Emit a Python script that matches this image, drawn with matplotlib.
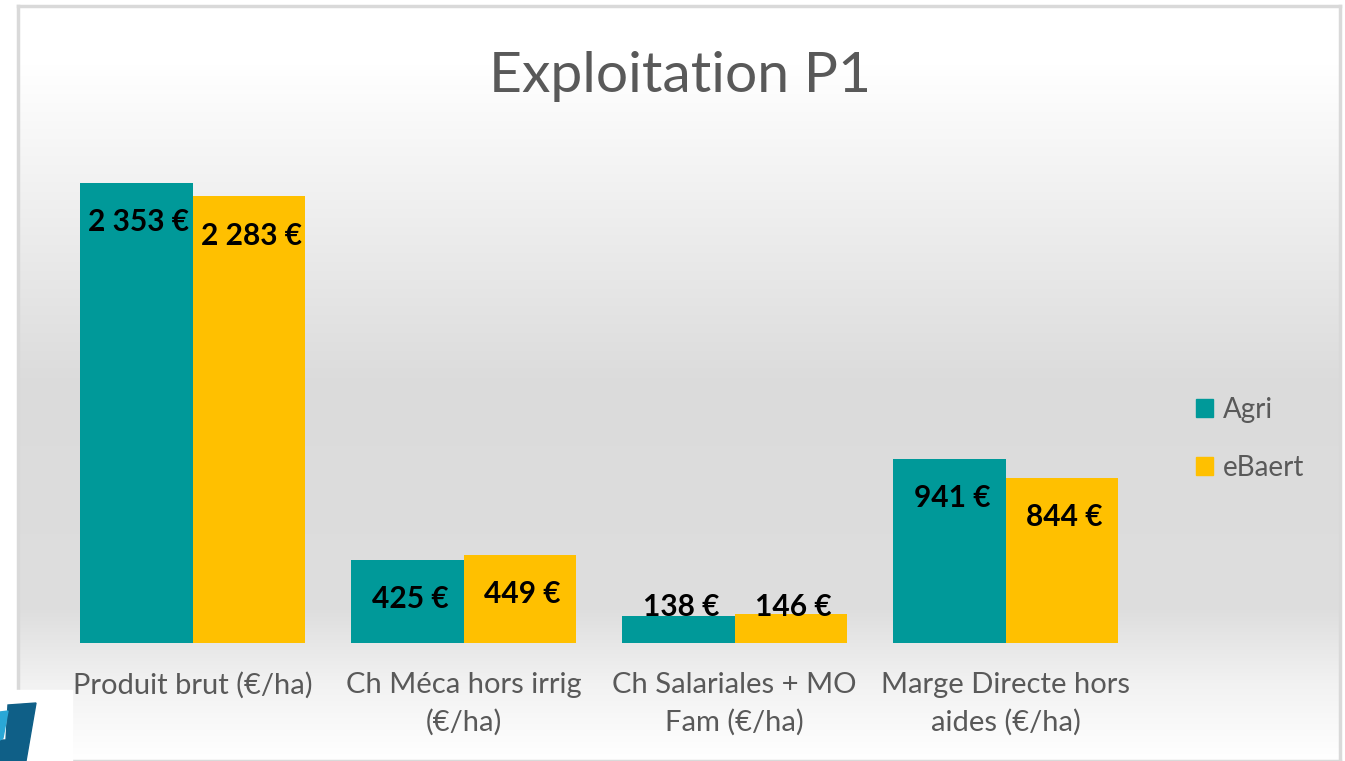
import matplotlib
matplotlib.use("Agg")
import matplotlib.pyplot as plt
import numpy as np
from matplotlib.patches import Patch, Polygon, Rectangle

plt.rcParams["font.family"] = ["Lato", "DejaVu Sans"]

categories = [
    "Produit brut (€/ha)",
    "Ch Méca hors irrig\n(€/ha)",
    "Ch Salariales + MO\nFam (€/ha)",
    "Marge Directe hors\naides (€/ha)",
]
agri = [2353, 425, 138, 941]
ebaert = [2283, 449, 146, 844]
series_names = ["Agri", "eBaert"]

TEAL = "#009999"
YELLOW = "#FFC000"
GREY_TXT = "#595959"

W, H = 1345, 761
fig = plt.figure(figsize=(W / 100, H / 100), dpi=100)
fig.patch.set_facecolor("white")

# chart frame with vertical gradient background
fx0, fx1, fy0, fy1 = 18, 1340, 6, 761
bg = fig.add_axes([fx0 / W, 1 - fy1 / H, (fx1 - fx0) / W, (fy1 - fy0) / H], zorder=0)
ys = np.linspace(0, 1, 300)
# 0 = top of frame, 1 = bottom
shade = np.interp(ys, [0.0, 0.08, 0.5, 0.8, 0.9, 1.0], [1.0, 1.0, 0.86, 0.87, 0.95, 1.0])
img = np.repeat(shade[:, None], 2, axis=1)
bg.imshow(np.dstack([img, img, img]), aspect="auto", extent=[0, 1, 1, 0])
bg.set_xlim(0, 1)
bg.set_ylim(1, 0)
bg.set_xticks([])
bg.set_yticks([])
for s in bg.spines.values():
    s.set_color("#d9d9d9")
    s.set_linewidth(2.5)

# main plot area: category width 271 px, baseline at y=643
ax_left, ax_right = 57, 1141
base_y, top_y = 643, 154
ax = fig.add_axes([ax_left / W, 1 - base_y / H, (ax_right - ax_left) / W, (base_y - top_y) / H], zorder=2)
ax.patch.set_alpha(0)

x = np.arange(len(categories))
bw = 0.415
ax.bar(x - bw / 2, agri, bw, color=TEAL, label=series_names[0])
ax.bar(x + bw / 2, ebaert, bw, color=YELLOW, label=series_names[1])
ax.set_xlim(-0.5, len(categories) - 0.5)
ax.set_ylim(0, 2500)

for xs, vals in ((x - bw / 2, agri), (x + bw / 2, ebaert)):
    for xi, v in zip(xs, vals):
        ypos = max(v - 200, 184)
        ax.text(xi + 0.01, ypos, f"{v:,} €".replace(",", " "), ha="center", va="center",
                fontsize=21.5, fontweight="bold", color="black")

ax.set_xticks(x)
ax.set_xticklabels(categories, fontsize=21, color=GREY_TXT, linespacing=1.5)
ax.tick_params(axis="x", length=0, pad=21)
ax.set_yticks([])
for s in ax.spines.values():
    s.set_visible(False)

fig.text(680 / W, 1 - 76 / H, "Exploitation P1", ha="center", va="center",
         fontsize=41, color=GREY_TXT)

handles = [Patch(color=TEAL), Patch(color=YELLOW)]
fig.legend(handles, series_names, loc="center left", bbox_to_anchor=(1171 / W, 1 - 439 / H),
           frameon=False, fontsize=20, labelcolor=GREY_TXT, handlelength=0.6,
           handleheight=0.6, handletextpad=0.38, labelspacing=1.15, borderpad=0.4)

# logo fragment bottom-left
lg = fig.add_axes([0, 0, 1, 1], zorder=5)
lg.set_xlim(0, W)
lg.set_ylim(H, 0)
lg.axis("off")
lg.add_patch(Rectangle((0, 690), 72, 71, color="white"))
lg.add_patch(Polygon([[8, 705], [36, 703], [26, 761], [0, 761], [0, 740], [6, 740]],
                     closed=True, color="#0f5f87"))
lg.add_patch(Polygon([[0, 712], [8, 711], [3, 738], [0, 740]], closed=True, color="#2aa7d6"))

fig.savefig("out.png", dpi=100)
